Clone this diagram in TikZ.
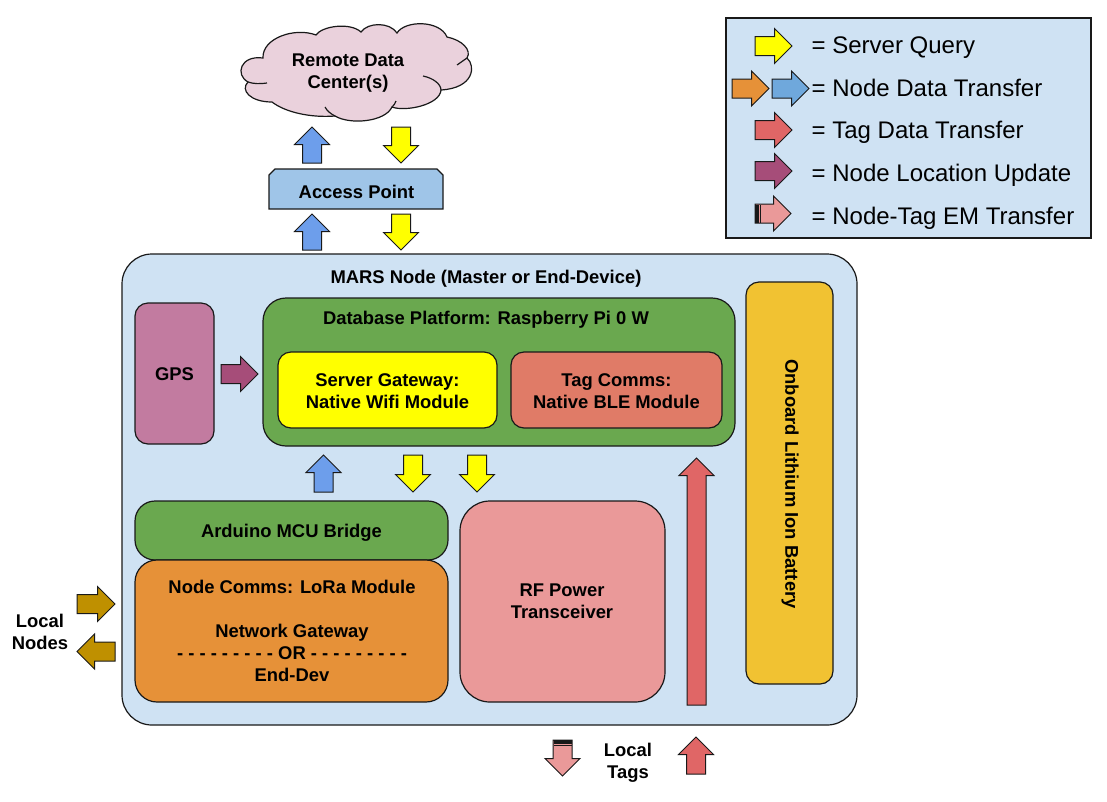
\documentclass[tikz,border=0pt]{standalone}
\usepackage{fontspec}
\setmainfont{Liberation Sans}
\usepackage{xcolor}
\usetikzlibrary{shapes.arrows}
\definecolor{nodeblue}{HTML}{CFE2F3}
\definecolor{accessblue}{HTML}{9FC5E8}
\definecolor{dbgreen}{HTML}{6AA84F}
\definecolor{gpspurple}{HTML}{C27BA0}
\definecolor{tagcomms}{HTML}{E07B67}
\definecolor{battery}{HTML}{F1C232}
\definecolor{lora}{HTML}{E69138}
\definecolor{rfpink}{HTML}{EA9999}
\definecolor{cloudpink}{HTML}{EAD1DC}
\definecolor{upblue}{HTML}{6D9EEB}
\definecolor{legendblue}{HTML}{6FA8DC}
\definecolor{tagred}{HTML}{E06666}
\definecolor{locpurple}{HTML}{A64D79}
\definecolor{gold}{HTML}{BF9000}
\definecolor{query}{HTML}{FFFF00}
\tikzset{
  lbl/.style={font=\fontsize{18.4}{22}\selectfont\bfseries, align=center, inner sep=0},
  legtext/.style={font=\fontsize{24}{28}\selectfont, anchor=base west, inner sep=0},
  box/.style={draw=black!90, line width=1.2pt, inner sep=0},
  blockarrow/.style={single arrow, draw=black!90, line width=1pt, inner sep=9pt, outer sep=0pt, minimum width=35pt, single arrow head extend=8pt, anchor=tail},
}
\begin{document}
\begin{tikzpicture}[x=1pt, y=-1pt]
  \useasboundingbox (0, 0) rectangle (1107, 801);

  % legend
  \node[draw=black!90, line width=2pt, fill=nodeblue, minimum width=365pt, minimum height=220pt, inner sep=0] (legend) at (908.5, 128) {};
  \node[blockarrow, fill=query, minimum height=37pt] (lq) at (755, 46) {};
  \node[blockarrow, fill=lora, minimum height=37pt] (ld1) at (732, 88.5) {};
  \node[blockarrow, fill=legendblue, minimum height=37pt] (ld2) at (772, 88.5) {};
  \node[blockarrow, fill=tagred, minimum height=37pt] (lt) at (755, 130) {};
  \node[blockarrow, fill=locpurple, minimum height=37pt] (ll) at (755, 171) {};
  \node[blockarrow, fill=rfpink, minimum height=36pt] (lem) at (755, 213.5) {};
  \fill[black!90] (755, 204.5) rectangle (758.5, 222.5);
  \fill[black!90] (760, 204.5) rectangle (761, 222.5);
  \node[legtext] (tq) at (811.5, 53.2) {= Server Query};
  \node[legtext] (td) at (811.5, 96) {= Node Data Transfer};
  \node[legtext] (tt) at (811.5, 138.5) {= Tag Data Transfer};
  \node[legtext] (tl) at (811.5, 181.3) {= Node Location Update};
  \node[legtext] (tem) at (811.5, 224.2) {= Node-Tag EM Transfer};

  % top
  \draw[line width=1.2pt, draw=black!90, fill=cloudpink] (263, 58)
    .. controls (262, 38) and (295, 27) .. (316, 35)
    .. controls (322, 26) and (350, 22) .. (361, 32)
    .. controls (368, 22) and (390, 22) .. (397, 33)
    .. controls (405, 20) and (440, 20) .. (447, 37)
    .. controls (462, 40) and (472, 50) .. (467, 58)
    .. controls (476, 66) and (474, 88) .. (441, 90)
    .. controls (440, 105) and (405, 112) .. (392, 107)
    .. controls (385, 122) and (350, 125) .. (335, 116)
    .. controls (310, 118) and (285, 112) .. (272, 102)
    .. controls (250, 102) and (240, 90) .. (248, 82)
    .. controls (235, 75) and (240, 55) .. (263, 58) -- cycle;
  \draw[line width=1.2pt, draw=black!90]
    (248, 82) .. controls (254, 84) and (260, 84) .. (267, 83)
    (325, 107) .. controls (327, 111) and (331, 114) .. (335, 116)
    (396, 101) .. controls (395, 104) and (394, 105) .. (392, 107)
    (423, 76) .. controls (433, 78) and (441, 84) .. (441, 90)
    (457, 65) .. controls (460, 63) and (464, 60) .. (467, 58);
  \node[lbl] (remotetxt) at (348, 73) {Remote Data\\Center(s)};
  \draw[line width=1.2pt, draw=black!90, fill=accessblue] (269, 209) -- (443, 209) -- (443, 175) -- (437, 169) -- (275, 169) -- (269, 175) -- cycle;
  \node[lbl] (aptxt) at (356.5, 191.5) {Access Point};
  \node[blockarrow, fill=upblue, rotate=90, minimum height=36pt] (a1) at (312, 163) {};
  \node[blockarrow, fill=query, rotate=270, minimum height=36pt] (a2) at (401, 127) {};
  \node[blockarrow, fill=upblue, rotate=90, minimum height=36pt] (a3) at (312, 250) {};
  \node[blockarrow, fill=query, rotate=270, minimum height=36pt] (a4) at (401, 214) {};

  % mars node
  \node[box, fill=nodeblue, rounded corners=30pt, minimum width=735pt, minimum height=471pt] (mars) at (489.5, 489.5) {};
  \node[lbl] (marstxt) at (486, 279) {MARS Node (Master or End-Device)};
  \node[box, fill=gpspurple, rounded corners=13pt, minimum width=79pt, minimum height=141pt] (gps) at (174.5, 373.5) {};
  \node[lbl] (gpstxt) at (174.5, 374.5) {GPS};
  \node[box, fill=dbgreen, rounded corners=23pt, minimum width=472pt, minimum height=148pt] (db) at (499, 372) {};
  \node[lbl] (dbtxt) at (486, 319.5) {Database Platform: Raspberry Pi 0 W};
  \node[box, fill=query, rounded corners=13pt, minimum width=219pt, minimum height=76pt] (gate) at (387.5, 390) {};
  \node[lbl] (gatetxt) at (387.5, 391) {Server Gateway:\\Native Wifi Module};
  \node[box, fill=tagcomms, rounded corners=13pt, minimum width=211pt, minimum height=76pt] (tag) at (616.5, 390) {};
  \node[lbl] (tagtxt) at (616.5, 391) {Tag Comms:\\Native BLE Module};
  \node[box, fill=battery, rounded corners=13pt, minimum width=87pt, minimum height=402pt] (bat) at (789.5, 483) {};
  \node[lbl, rotate=270] (battxt) at (790, 484) {Onboard Lithium Ion Battery};
  \node[box, fill=dbgreen, rounded corners=20pt, minimum width=313pt, minimum height=59pt] (mcu) at (291.5, 530.5) {};
  \node[lbl] (mcutxt) at (291.5, 533) {Arduino MCU Bridge};
  \node[box, fill=lora, rounded corners=22pt, minimum width=313pt, minimum height=142pt] (comms) at (291.5, 631) {};
  \node[lbl] (commstxt) at (292, 630.5) {Node Comms: LoRa Module\\[22pt]Network Gateway\\- - - - - - - - - OR - - - - - - - - -\\End-Dev};
  \node[box, fill=rfpink, rounded corners=30pt, minimum width=205pt, minimum height=201pt] (rf) at (562.5, 601.5) {};
  \node[lbl] (rftxt) at (562, 601.5) {RF Power\\Transceiver};

  % arrows in the node
  \node[blockarrow, fill=locpurple, minimum height=37pt] (a5) at (221, 374) {};
  \node[blockarrow, fill=upblue, rotate=90, minimum height=37pt] (a6) at (323.5, 492) {};
  \node[blockarrow, fill=query, rotate=270, minimum height=37pt] (a7) at (413, 455) {};
  \node[blockarrow, fill=query, rotate=270, minimum height=37pt] (a8) at (477, 455) {};
  \node[blockarrow, fill=tagred, rotate=90, minimum height=247pt] (a9) at (696.5, 705) {};

  % local nodes and tags
  \node[blockarrow, fill=gold, minimum height=38pt] (n1) at (77, 604) {};
  \node[blockarrow, fill=gold, rotate=180, minimum height=38pt] (n2) at (115, 651.5) {};
  \node[lbl] (ntxt) at (40, 632) {Local\\Nodes};
  \node[blockarrow, fill=rfpink, rotate=270, minimum height=36pt] (t1) at (562.5, 740) {};
  \fill[black!90] (553.5, 740) rectangle (571.5, 743.5);
  \fill[black!90] (553.5, 745) rectangle (571.5, 746);
  \node[lbl] (ttxt) at (628, 763) {Local\\Tags};
  \node[blockarrow, fill=tagred, rotate=90, minimum height=37pt] (t2) at (696, 774) {};
\end{tikzpicture}
\end{document}
